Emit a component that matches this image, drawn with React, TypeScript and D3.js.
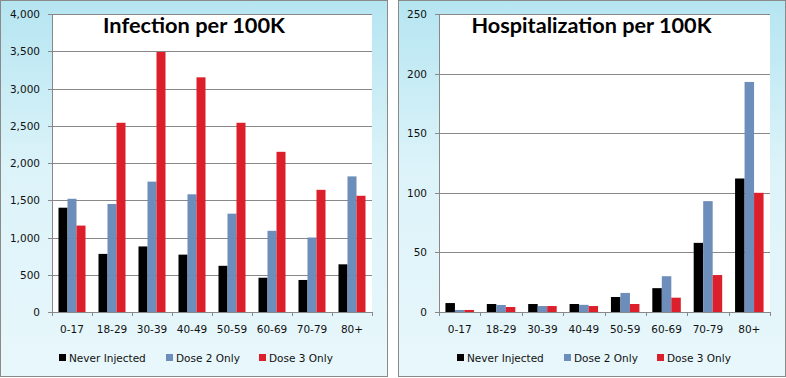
import React from "react";
import * as d3 from "d3";

const categories = ["0-17", "18-29", "30-39", "40-49", "50-59", "60-69", "70-79", "80+"];
const seriesNames = ["Never Injected", "Dose 2 Only", "Dose 3 Only"];
const seriesColors = ["#000000", "#6d8dba", "#dc1f2b"];

const infectionNever = [1400, 780, 880, 770, 620, 460, 430, 640];
const infectionDose2 = [1520, 1450, 1750, 1580, 1320, 1090, 1000, 1820];
const infectionDose3 = [1160, 2540, 3490, 3150, 2540, 2150, 1640, 1560];

const hospNever = [7.5, 6.7, 6.7, 6.7, 12.6, 20, 58, 112];
const hospDose2 = [1.7, 5.9, 5, 6, 16, 30, 93, 193];
const hospDose3 = [1.7, 4.2, 5, 5, 6.7, 12, 31, 100];

const infectionTicks = [0, 500, 1000, 1500, 2000, 2500, 3000, 3500, 4000];
const hospTicks = [0, 50, 100, 150, 200, 250];

const FONT = "'DejaVu Sans', Verdana, sans-serif";

type PanelProps = {
  x0: number;
  x1: number;
  plotL: number;
  plotR: number;
  title: string;
  titleLen: number;
  series: number[][];
  ticks: number[];
  max: number;
  barW: number;
  fmt: (v: number) => string;
};

function Panel({ x0, x1, plotL, plotR, title, titleLen, series, ticks, max, barW, fmt }: PanelProps) {
  const top = 14;
  const bottom = 312;
  const y = d3.scaleLinear().domain([0, max]).range([bottom, top]);
  const xBand = d3.scaleBand<string>().domain(categories).range([plotL, plotR]).padding(0);
  const step = xBand.bandwidth();
  const groupW = barW * 3;
  const inner = d3
    .scaleBand<number>()
    .domain([0, 1, 2])
    .range([(step - groupW) / 2, (step + groupW) / 2])
    .padding(0);
  const titleX = (plotL + plotR) / 2 + (x0 === 0 ? -18 : -13);
  const legendOffsets = [59, 166, 259];
  return (
    <g>
      <rect x={x0 + 0.5} y={0.5} width={x1 - x0 - 1} height={376} fill="url(#panelGrad)" stroke="#8a8a8a" strokeWidth={1} />
      <rect x={plotL} y={top} width={plotR - plotL} height={bottom - top} fill="#ffffff" />
      {ticks.map((t) => (
        <g key={t}>
          {t > 0 && (
            <line x1={plotL} x2={plotR} y1={Math.round(y(t)) + 0.5} y2={Math.round(y(t)) + 0.5} stroke="#888888" strokeWidth={1} />
          )}
          <line x1={plotL - 4} x2={plotL} y1={Math.round(y(t)) + 0.5} y2={Math.round(y(t)) + 0.5} stroke="#888888" strokeWidth={1} />
          <text x={plotL - 12} y={y(t) + 4} textAnchor="end" fontFamily={FONT} fontSize={10.5} fill="#111">
            {fmt(t)}
          </text>
        </g>
      ))}
      {series.map((vals, si) =>
        vals.map((v, ci) => (
          <rect
            key={`${si}-${ci}`}
            x={(xBand(categories[ci]) as number) + (inner(si) as number)}
            y={y(v)}
            width={inner.bandwidth()}
            height={bottom - y(v)}
            fill={seriesColors[si]}
          />
        ))
      )}
      <line x1={plotL + 0.5} x2={plotL + 0.5} y1={top} y2={bottom} stroke="#888888" strokeWidth={1} />
      <line x1={plotL} x2={plotR} y1={bottom + 0.5} y2={bottom + 0.5} stroke="#888888" strokeWidth={1} />
      {categories.map((c) => (
        <line key={`tk-${c}`} x1={Math.round(xBand(c) as number) + 0.5} x2={Math.round(xBand(c) as number) + 0.5} y1={bottom} y2={bottom + 4} stroke="#888888" />
      ))}
      <line x1={Math.round(plotR) + 0.5} x2={Math.round(plotR) + 0.5} y1={bottom} y2={bottom + 4} stroke="#888888" />
      {categories.map((c) => (
        <text key={`lb-${c}`} x={(xBand(c) as number) + step / 2} y={333} textAnchor="middle" fontFamily={FONT} fontSize={10.5} fill="#111">
          {c}
        </text>
      ))}
      <text
        x={titleX}
        y={33}
        textAnchor="middle"
        fontFamily="Lato, 'Open Sans', sans-serif"
        fontWeight="bold"
        fontSize={21}
        fill="#000"
        textLength={titleLen}
        lengthAdjust="spacingAndGlyphs"
        style={{ textShadow: "1px 1px 1px rgba(255,255,255,0.8)" }}
      >
        {title}
      </text>
      {seriesNames.map((n, i) => (
        <g key={n}>
          <rect x={x0 + legendOffsets[i]} y={354} width={7} height={7} fill={seriesColors[i]} />
          <text x={x0 + legendOffsets[i] + 10} y={362} fontFamily={FONT} fontSize={10.5} fill="#111">
            {n}
          </text>
        </g>
      ))}
    </g>
  );
}

export default function App() {
  const fmtComma = d3.format(",");
  const fmtPlain = d3.format("d");
  return (
    <svg width={786} height={378} style={{ position: "absolute", left: 0, top: 0, background: "#fff" }}>
      <defs>
        <linearGradient id="panelGrad" x1="0" y1="0" x2="0" y2="1">
          <stop offset="0" stopColor="#b5e5f1" />
          <stop offset="0.45" stopColor="#dcf3f9" />
          <stop offset="1" stopColor="#e8f7fb" />
        </linearGradient>
      </defs>
      <Panel
        x0={0}
        x1={388}
        plotL={52}
        plotR={372}
        title="Infection per 100K"
        titleLen={182}
        series={[infectionNever, infectionDose2, infectionDose3]}
        ticks={infectionTicks}
        max={4000}
        barW={9}
        fmt={fmtComma}
      />
      <Panel
        x0={398}
        x1={786}
        plotL={439}
        plotR={770}
        title="Hospitalization per 100K"
        titleLen={240}
        series={[hospNever, hospDose2, hospDose3]}
        ticks={hospTicks}
        max={250}
        barW={9.5}
        fmt={fmtPlain}
      />
    </svg>
  );
}
